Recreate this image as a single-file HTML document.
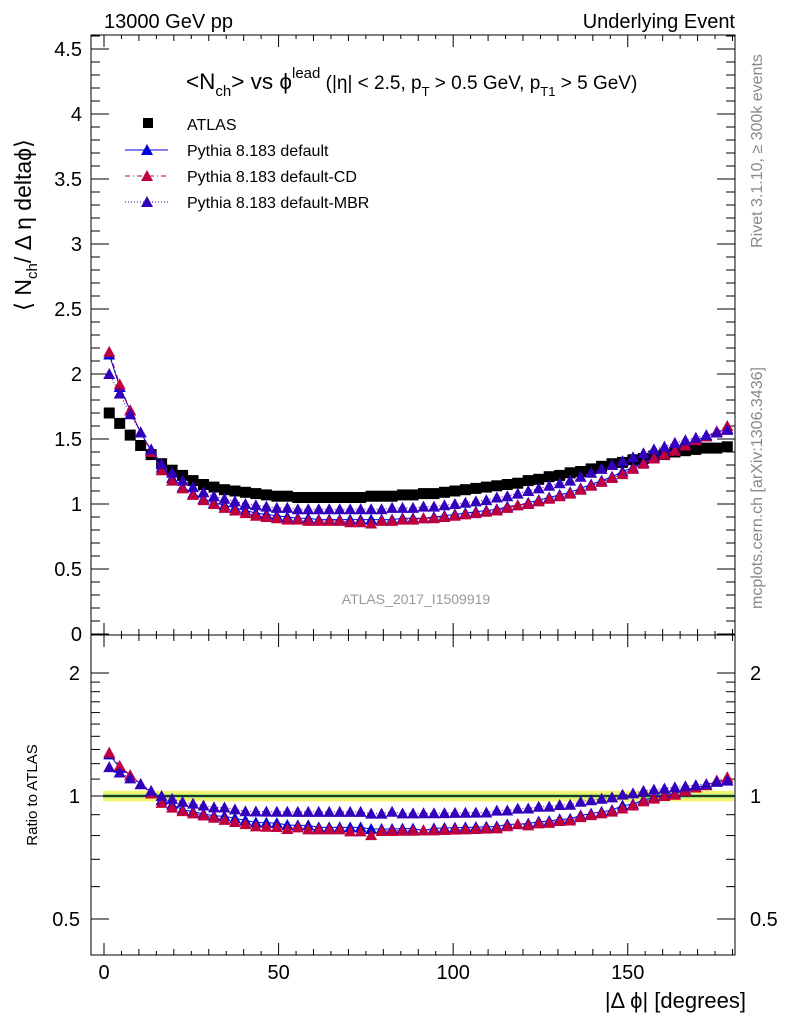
<!DOCTYPE html>
<html><head><meta charset="utf-8"><style>
body{margin:0;background:#fff}
svg{display:block;font-family:"Liberation Sans",sans-serif}
</style></head><body>
<svg id="chart" width="786" height="1024" viewBox="0 0 786 1024">
<rect x="0" y="0" width="786" height="1024" fill="#fff"/>
<g id="g"></g>
</svg>
<script>
const binCenters=[1.5,4.5,7.5,10.5,13.5,16.5,19.5,22.5,25.5,28.5,31.5,34.5,37.5,40.5,43.5,46.5,49.5,52.5,55.5,58.5,61.5,64.5,67.5,70.5,73.5,76.5,79.5,82.5,85.5,88.5,91.5,94.5,97.5,100.5,103.5,106.5,109.5,112.5,115.5,118.5,121.5,124.5,127.5,130.5,133.5,136.5,139.5,142.5,145.5,148.5,151.5,154.5,157.5,160.5,163.5,166.5,169.5,172.5,175.5,178.5];
const atlas=[1.70,1.62,1.53,1.45,1.38,1.31,1.26,1.22,1.18,1.15,1.13,1.11,1.10,1.09,1.08,1.07,1.06,1.06,1.05,1.05,1.05,1.05,1.05,1.05,1.05,1.06,1.06,1.06,1.07,1.07,1.08,1.08,1.09,1.10,1.11,1.12,1.13,1.14,1.15,1.16,1.18,1.19,1.21,1.22,1.24,1.25,1.27,1.29,1.31,1.32,1.34,1.35,1.37,1.38,1.40,1.41,1.42,1.43,1.43,1.44];
const pyDefault=[2.15,1.90,1.72,1.55,1.41,1.28,1.20,1.13,1.08,1.04,1.01,0.99,0.97,0.95,0.93,0.92,0.91,0.90,0.89,0.89,0.88,0.88,0.88,0.88,0.88,0.88,0.88,0.88,0.89,0.89,0.89,0.90,0.91,0.92,0.93,0.94,0.95,0.96,0.98,0.99,1.01,1.03,1.05,1.07,1.09,1.12,1.15,1.18,1.21,1.25,1.28,1.32,1.36,1.39,1.42,1.46,1.49,1.52,1.55,1.58];
const pyCD=[2.17,1.92,1.72,1.55,1.40,1.26,1.18,1.12,1.07,1.03,1.00,0.97,0.95,0.93,0.91,0.90,0.89,0.88,0.88,0.87,0.87,0.87,0.87,0.86,0.86,0.85,0.87,0.87,0.88,0.88,0.89,0.89,0.90,0.91,0.92,0.93,0.94,0.95,0.97,0.99,1.00,1.02,1.04,1.06,1.08,1.11,1.14,1.17,1.20,1.23,1.27,1.31,1.35,1.38,1.41,1.45,1.49,1.52,1.56,1.60];
const pyMBR=[2.00,1.85,1.69,1.55,1.42,1.31,1.24,1.18,1.13,1.09,1.06,1.04,1.02,1.00,0.99,0.98,0.97,0.97,0.96,0.96,0.96,0.96,0.96,0.96,0.96,0.96,0.96,0.97,0.97,0.97,0.98,0.98,0.99,1.00,1.01,1.02,1.03,1.05,1.06,1.08,1.10,1.12,1.14,1.16,1.18,1.21,1.24,1.27,1.30,1.33,1.36,1.39,1.42,1.44,1.47,1.49,1.51,1.53,1.55,1.57];
const xTickLabels=[0,50,100,150];
const yTickLabels=[0,0.5,1,1.5,2,2.5,3,3.5,4,4.5];
const rTickLabels=[0.5,1,2];

const NS="http://www.w3.org/2000/svg";
const g=document.getElementById('g');
const L=91,R=735,T=35,MB=635,RB=955;
const X=v=>104+(v)*3.4917;
const Y=v=>634-v*130;
const RY=v=>796-Math.log2(v)*123;
function el(tag,attrs,parent){const e=document.createElementNS(NS,tag);for(const k in attrs)e.setAttribute(k,attrs[k]);(parent||g).appendChild(e);return e;}
function txt(s,x,y,size,anchor,fill,parent){const t=el('text',{x:x,y:y,'font-size':size,'text-anchor':anchor||'start',fill:fill||'#000'},parent);t.textContent=s;return t;}

const f1=el('rect',{x:L,y:T,width:R-L,height:MB-T,fill:'none',stroke:'#000','stroke-width':1});


const f2=el('rect',{x:L,y:MB,width:R-L,height:RB-MB,fill:'none',stroke:'#000','stroke-width':1});



for(let v=0;v<=180;v+=5){const x=X(v);const len=v%50===0?12:(v%10===0?6:4);
 [[RB,-1],[MB,-1],[MB,1],[T,1]].forEach(([y,d])=>{el('line',{x1:x,x2:x,y1:y,y2:y+d*len,stroke:'#000'});});}
const xt=el('g',{});
xTickLabels.forEach(v=>{const t=txt(String(v),X(v),979,20,'middle','#000',xt);});
const xtitle=txt('|\u0394 \u03d5| [degrees]',746,1008,22,'end');


for(let i=0;i<=46;i++){const v=i/10;const y=Y(v);const len=i%5===0?18:9;
 el('line',{x1:L,x2:L+len,y1:y,y2:y,stroke:'#000'});el('line',{x1:R,x2:R-len,y1:y,y2:y,stroke:'#000'});}
const yt=el('g',{});
yTickLabels.forEach(v=>{const t=txt(String(v),82,Y(v)+7,20,'end','#000',yt);});

[0.5,0.6,0.7,0.8,0.9,1,1.1,1.2,1.3,1.4,1.5,1.6,1.7,1.8,1.9,2].forEach(v=>{const y=RY(v);const len=(v===0.5||v===1||v===2)?18:9;
 el('line',{x1:L,x2:L+len,y1:y,y2:y,stroke:'#000'});el('line',{x1:R,x2:R-len,y1:y,y2:y,stroke:'#000'});});
const rt=el('g',{});
rTickLabels.forEach(v=>{txt(String(v),80,RY(v)+7,20,'end','#000',rt);txt(String(v),750,RY(v)+7,20,'start','#000',rt);});
const rtitle=txt('Ratio to ATLAS',0,0,15,'middle');
rtitle.setAttribute('transform','translate(37,795) rotate(-90)');


const band=el('rect',{x:L+12,y:RY(1.03),width:R-L-13,height:RY(0.97)-RY(1.03),fill:'#f4f470'});

el('rect',{x:L+12,y:RY(1.012),width:R-L-13,height:RY(0.988)-RY(1.012),fill:'#9be27b'});
el('line',{x1:L+12,x2:R,y1:RY(1),y2:RY(1),stroke:'#000','stroke-width':1.5});

const t1=txt('13000 GeV pp',104,28,20);
const t2=txt('Underlying Event',735,28,20,'end');
const ylab=el('text',{'font-size':23,'text-anchor':'middle',transform:'translate(31,225) rotate(-90)'});

ylab.innerHTML='\u27e8 N<tspan font-size="15" dy="6">ch</tspan><tspan dy="-6">/ \u0394 \u03b7 delta\u03d5\u27e9</tspan>';
const title=el('text',{x:186,y:89,'font-size':22.5});

title.innerHTML='&lt;N<tspan font-size="15" dy="7">ch</tspan><tspan dy="-7">&gt; vs \u03d5</tspan><tspan font-size="15" dy="-11">lead</tspan><tspan font-size="19" dy="11"> (|\u03b7| &lt; 2.5, p</tspan><tspan font-size="13" dy="7">T</tspan><tspan font-size="19" dy="-7"> &gt; 0.5 GeV, p</tspan><tspan font-size="13" dy="7">T1</tspan><tspan font-size="19" dy="-7"> &gt; 5 GeV)</tspan>';
const side1=txt('Rivet 3.1.10, \u2265 300k events',0,0,16,'middle','#888');
side1.setAttribute('transform','translate(762,151) rotate(-90)');

const side2=txt('mcplots.cern.ch [arXiv:1306.3436]',0,0,16,'middle','#888');
side2.setAttribute('transform','translate(762,488) rotate(-90)');

const ana=txt('ATLAS_2017_I1509919',416,604,14,'middle','#999');


function tri(x,y,c,parent){el('polygon',{points:`${x-6},${y+5} ${x+6},${y+5} ${x},${y-6}`,fill:c},parent);}
const series=[
 {name:'series-default',vals:pyDefault,c:'#0000dd',dash:null},
 {name:'series-default-cd',vals:pyCD,c:'#c0003c',dash:'5,3,1,3'},
 {name:'series-default-mbr',vals:pyMBR,c:'#3300bb',dash:'1,2'}];
const ag=el('g',{});
binCenters.forEach((b,i)=>{const s=el('rect',{x:X(b)-5.5,y:Y(atlas[i])-5.5,width:11,height:11,fill:'#000'},ag);
 });
series.forEach(s=>{
 const sg=el('g',{});
 const pts=binCenters.map((b,i)=>X(b)+','+Y(s.vals[i])).join(' ');
 const pl=el('polyline',{points:pts,fill:'none',stroke:s.c,'stroke-width':1},sg);if(s.dash)pl.setAttribute('stroke-dasharray',s.dash);
 binCenters.forEach((b,i)=>tri(X(b),Y(s.vals[i]),s.c,sg));
 const rg=el('g',{});
 const rpts=binCenters.map((b,i)=>X(b)+','+RY(s.vals[i]/atlas[i])).join(' ');
 const rl=el('polyline',{points:rpts,fill:'none',stroke:s.c,'stroke-width':1},rg);if(s.dash)rl.setAttribute('stroke-dasharray',s.dash);
 binCenters.forEach((b,i)=>tri(X(b),RY(s.vals[i]/atlas[i]),s.c,rg));
});

const lg=el('g',{});
el('rect',{x:143,y:118,width:10,height:10,fill:'#000'},lg);
txt('ATLAS',187,130,16,'start','#000',lg);
const labels=['Pythia 8.183 default','Pythia 8.183 default-CD','Pythia 8.183 default-MBR'];
series.forEach((s,i)=>{const y=150+i*26;
 const ln=el('line',{x1:125,x2:168,y1:y,y2:y,stroke:s.c},lg);if(s.dash)ln.setAttribute('stroke-dasharray',s.dash);
 tri(147,y,s.c,lg);
 const t=txt(labels[i],187,y+6,16,'start','#000',lg);});
</script>
</body></html>
